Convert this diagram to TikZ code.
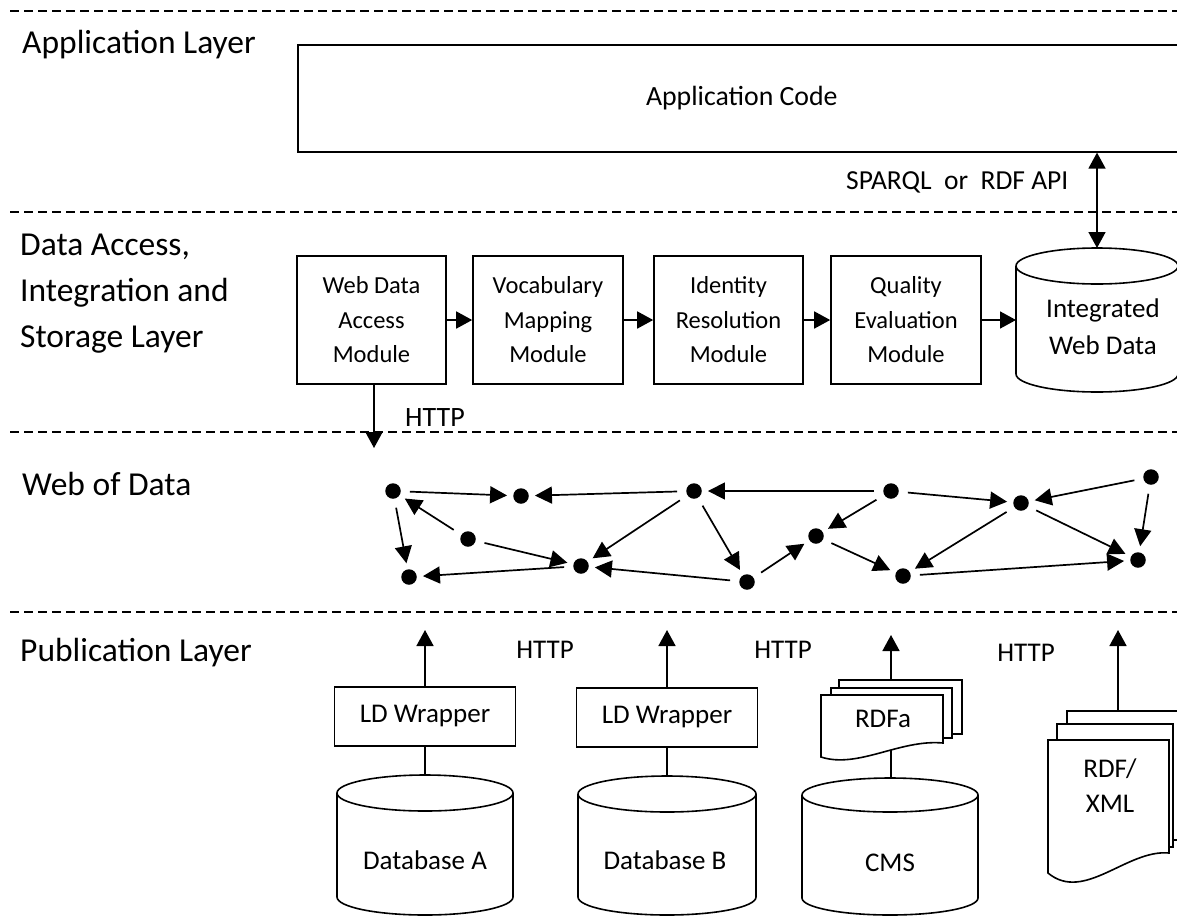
\documentclass[tikz,border=0pt]{standalone}
\usepackage{fontspec}
\setmainfont{Carlito}
\usetikzlibrary{arrows.meta}
\newcommand\dbcyl[5]{% cx, rx, top ellipse centre y, bottom ellipse centre y, ry
  \draw[cylst] (#1-#2,#3) -- (#1-#2,#4) arc[start angle=180,end angle=360,x radius=#2,y radius=#5] -- (#1+#2,#3);
  \draw[cylst] (#1,#3) ellipse[x radius=#2,y radius=#5];}
\begin{document}
\begin{tikzpicture}[x=1pt,y=1pt,
  layerline/.style={dash pattern=on 9pt off 5pt, line width=1.6pt},
  layerlbl/.style={font=\fontsize{33.5}{46}\selectfont, inner sep=0pt, align=left},
  box/.style={draw, line width=1.6pt, fill=white, align=center, inner sep=0pt},
  modfont/.style={font=\fontsize{24.5}{34.5}\selectfont},
  txt/.style={font=\fontsize{27}{35}\selectfont, inner sep=0pt, align=center},
  cylst/.style={line width=1.6pt, fill=white},
  docst/.style={line width=1.6pt, fill=white},
  conn/.style={line width=1.6pt},
  arr/.style={line width=1.6pt, -{Triangle[length=16pt,width=17pt]}},
  darr/.style={line width=1.6pt, {Triangle[length=16pt,width=17pt]}-{Triangle[length=16pt,width=17pt]}},
  dot/.style={circle, fill, inner sep=0pt, minimum size=15.5pt},
  warr/.style={line width=1.7pt, -{Triangle[length=17pt,width=17pt]}, shorten <=9pt, shorten >=6pt}]
\useasboundingbox (0,0) rectangle (1177,-916);
\clip (0,0) rectangle (1177,-916);

% layer separators
\draw[layerline] (10,-11) -- (1177,-11);
\draw[layerline] (10,-212) -- (1177,-212);
\draw[layerline] (10,-432) -- (1177,-432);
\draw[layerline] (10,-612) -- (1177,-612);

% layer labels
\node[layerlbl, anchor=base west] (lapp) at (22,-53) {Application Layer};
\node[layerlbl, anchor=west] (ldat) at (20,-294) {Data Access,\\Integration and\\Storage Layer};
\node[layerlbl, anchor=base west] (lweb) at (22,-495) {Web of Data};
\node[layerlbl, anchor=base west] (lpub) at (20,-661) {Publication Layer};

% application layer
\node[box, txt, font=\fontsize{27.8}{32}\selectfont, minimum width=888, minimum height=107, anchor=north west] (app) at (297,-44) {Application Code};

% data access layer
\node[box, modfont, minimum width=149, minimum height=128] (wda) at (371.5,-320) {Web Data\\Access\\Module};
\node[box, modfont, minimum width=150, minimum height=128] (vmm) at (548,-320) {Vocabulary\\Mapping\\Module};
\node[box, modfont, minimum width=149, minimum height=128] (irm) at (728.5,-320) {Identity\\Resolution\\Module};
\node[box, modfont, minimum width=150, minimum height=128] (qem) at (906,-320) {Quality\\Evaluation\\Module};
\dbcyl{1097}{81}{-266}{-374}{18}
\node[txt, font=\fontsize{27}{37}\selectfont] (iwd) at (1103,-327) {Integrated\\Web Data};
\coordinate (iwdT) at (1097,-248);
\coordinate (iwdL) at (1016,-320);

\draw[arr] (wda) -- (vmm);
\draw[arr] (vmm) -- (irm);
\draw[arr] (irm) -- (qem);
\draw[arr] (qem) -- (iwdL);
\draw[darr] (app.south -| iwdT) -- (iwdT);
\node[txt, font=\fontsize{27.5}{32}\selectfont, anchor=west] (sparql) at (846,-182) {SPARQL\ \ or\ \ RDF API};

\coordinate (httpEnd) at (374,-448);
\draw[arr] (wda.south -| httpEnd) -- (httpEnd);
\node[txt, font=\fontsize{28}{32}\selectfont] (http0) at (435,-418) {HTTP};

% web of data
\node[dot] (A) at (393,-491) {};
\node[dot] (B) at (521,-496) {};
\node[dot] (C) at (694,-491) {};
\node[dot] (D) at (468,-539) {};
\node[dot] (E) at (409,-577) {};
\node[dot] (F) at (581,-566) {};
\node[dot] (G) at (747,-582) {};
\node[dot] (H) at (891,-491) {};
\node[dot] (I) at (816,-536) {};
\node[dot] (J) at (1021,-503) {};
\node[dot] (K) at (903,-576) {};
\node[dot] (L) at (1151,-477) {};
\node[dot] (M) at (1138,-560) {};
\draw[warr] (A) -- (B);
\draw[warr] (C) -- (B);
\draw[warr] (H) -- (C);
\draw[warr] (A) -- (E);
\draw[warr] (D) -- (A);
\draw[warr] (D) -- (F);
\draw[warr] (C) -- (F);
\draw[warr] (C) -- (G);
\draw[warr] (F) -- (E);
\draw[warr] (G) -- (F);
\draw[warr] (G) -- (I);
\draw[warr] (H) -- (I);
\draw[warr] (I) -- (K);
\draw[warr] (H) -- (J);
\draw[warr] (J) -- (K);
\draw[warr] (J) -- (M);
\draw[warr] (L) -- (J);
\draw[warr] (L) -- (M);
\draw[warr] (K) -- (M);

% publication layer
\coordinate (pubTop) at (0,-630);
\node[box, txt, minimum width=181, minimum height=59] (ldA) at (425,-716.5) {LD Wrapper};
\node[box, txt, minimum width=181, minimum height=59] (ldB) at (667,-717.5) {LD Wrapper};
\draw[arr] (ldA) -- (ldA |- pubTop);
\draw[arr] (ldB) -- (ldB |- pubTop);

\coordinate (dbAtop) at (425,-775);
\coordinate (dbBtop) at (667,-776);
\draw[conn] (ldA) -- (dbAtop);
\draw[conn] (ldB) -- (dbBtop);
\dbcyl{425}{88}{-793}{-897}{18}
\dbcyl{667}{89}{-794}{-897}{18}
\node[txt] (dbA) at (425,-860) {Database A};
\node[txt] (dbB) at (665,-860) {Database B};

% CMS + RDFa
\coordinate (rdfaTop) at (891,-680);
\coordinate (rdfaTip) at (891,-635);
\coordinate (rdfaBot) at (891,-745);
\coordinate (cmsTop) at (891,-778);
\draw[conn] (rdfaBot) -- (cmsTop);
\dbcyl{890}{88}{-795}{-898}{17}
\node[txt] (cms) at (890,-863) {CMS};
\draw[docst] (839,-680) rectangle (962,-734);
\draw[docst] (831,-688) rectangle (952,-738);
\draw[docst] (821,-695) -- (943,-695) -- (943,-743) .. controls (900,-739) and (858,-769) .. (821,-757) -- cycle;
\draw[arr] (rdfaTop) -- (rdfaTip);
\node[txt] (rdfa) at (883,-719) {RDFa};

% RDF/XML
\coordinate (xmlTop) at (1118,-711);
\coordinate (xmlTip) at (1118,-630);
\draw[docst] (1067,-711) rectangle (1195,-840);
\draw[docst] (1057,-724) rectangle (1173,-847);
\draw[docst] (1048,-740) -- (1169,-740) -- (1169,-853) .. controls (1127,-849) and (1084,-903) .. (1048,-873) -- cycle;
\draw[arr] (xmlTop) -- (xmlTip);
\node[txt] (rdfxml) at (1110,-786) {RDF/\\XML};

% HTTP labels
\node[txt] (http1) at (545,-650) {HTTP};
\node[txt] (http2) at (783,-650) {HTTP};
\node[txt] (http3) at (1026,-653) {HTTP};
\end{tikzpicture}
\end{document}
